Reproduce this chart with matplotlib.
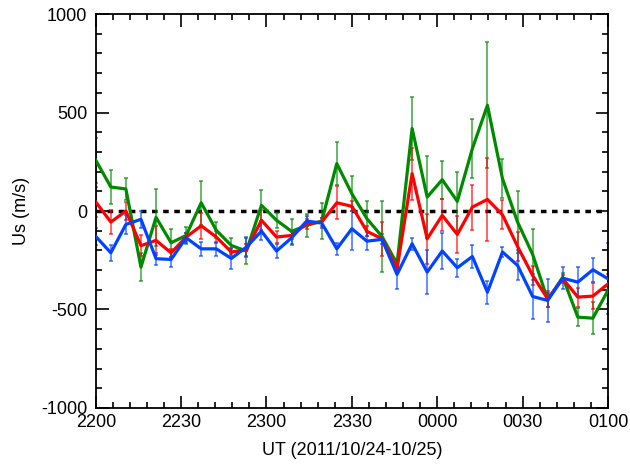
import numpy as np
import matplotlib
matplotlib.use("Agg")
import matplotlib.pyplot as plt
from matplotlib.ticker import MultipleLocator

plt.rcParams['font.family'] = ['Liberation Sans', 'DejaVu Sans']
plt.rcParams['axes.unicode_minus'] = False

# minutes after 2200 UT, 35 samples over 3 hours
minutes = np.linspace(0, 180, 35)
tick_labels = ["2200", "2230", "2300", "2330", "0000", "0030", "0100"]

green = [258, 122, 112, -285, -32, -161, -124, 42, -98, -175, -203, 29, -47, -103,
         -73, -51, 241, 88, -39, -129, -268, 419, 71, 159, 49, 317, 537, 164, -56,
         -220, -451, -336, -539, -544, -403]
green_err = [115, 87, 56, 70, 146, 71, 42, 112, 40, 37, 64, 80, 39, 64,
             60, 93, 107, 90, 88, 180, 25, 161, 208, 97, 151, 150, 320, 98, 156,
             131, 35, 20, 45, 80, 70]

red = [46, -56, 0, -176, -149, -212, -132, -75, -132, -208, -197, -47, -132, -124,
       -64, -56, 42, 24, -103, -141, -293, 190, -141, -22, -119, 20, 59, -19, -180,
       -327, -446, -344, -437, -432, -370]
red_err = [76, 63, 47, 53, 73, 20, 20, 66, 31, 15, 30, 51, 31, 20,
           25, 20, 85, 25, 25, 85, 20, 132, 127, 81, 95, 114, 212, 73, 75,
           50, 40, 20, 48, 68, 50]

blue = [-129, -212, -68, -42, -242, -246, -136, -192, -192, -241, -183, -102, -203, -136,
        -51, -61, -192, -90, -153, -144, -322, -166, -310, -203, -288, -231, -412, -208, -276,
        -434, -454, -341, -361, -298, -344]
blue_err = [42, 41, 49, 42, 30, 40, 25, 34, 35, 51, 51, 46, 35, 35,
            25, 25, 30, 110, 45, 25, 76, 31, 112, 93, 45, 56, 59, 25, 76,
            114, 110, 55, 76, 61, 180]

fig = plt.figure(figsize=(6.3, 4.7), dpi=100)
ax = fig.add_axes([0.152, 0.132, 0.813, 0.838])

ax.axhline(0, color='black', lw=2.5, ls=(0, (1.6, 1.6)), zorder=1)

for y, err, col in [(green, green_err, '#008a00'),
                    (red, red_err, '#ff0000'),
                    (blue, blue_err, '#0044ff')]:
    ax.errorbar(minutes, y, yerr=err, fmt='none', ecolor=col, elinewidth=1.3,
                capsize=1.5, capthick=1.3, alpha=0.65, zorder=2)
    ax.plot(minutes, y, color=col, lw=2.3, zorder=3)

ax.set_xlim(0, 180)
ax.set_ylim(-1000, 1000)
ax.set_xticks(np.arange(0, 181, 30))
ax.set_xticklabels(tick_labels)
ax.xaxis.set_minor_locator(MultipleLocator(6))
ax.yaxis.set_major_locator(MultipleLocator(500))
ax.yaxis.set_minor_locator(MultipleLocator(100))

ax.tick_params(which='both', direction='in', top=True, right=True, width=1.2,
               labelsize=13, colors='black')
ax.tick_params(which='major', length=9)
ax.tick_params(which='minor', length=4.5)
ax.tick_params(axis='x', pad=4)
ax.tick_params(axis='y', pad=6)
for s in ax.spines.values():
    s.set_linewidth(1.3)

ax.set_xlabel("UT (2011/10/24-10/25)", fontsize=13, labelpad=8)
ax.set_ylabel("Us (m/s)", fontsize=13, labelpad=8)

fig.savefig("out.png", dpi=100)
